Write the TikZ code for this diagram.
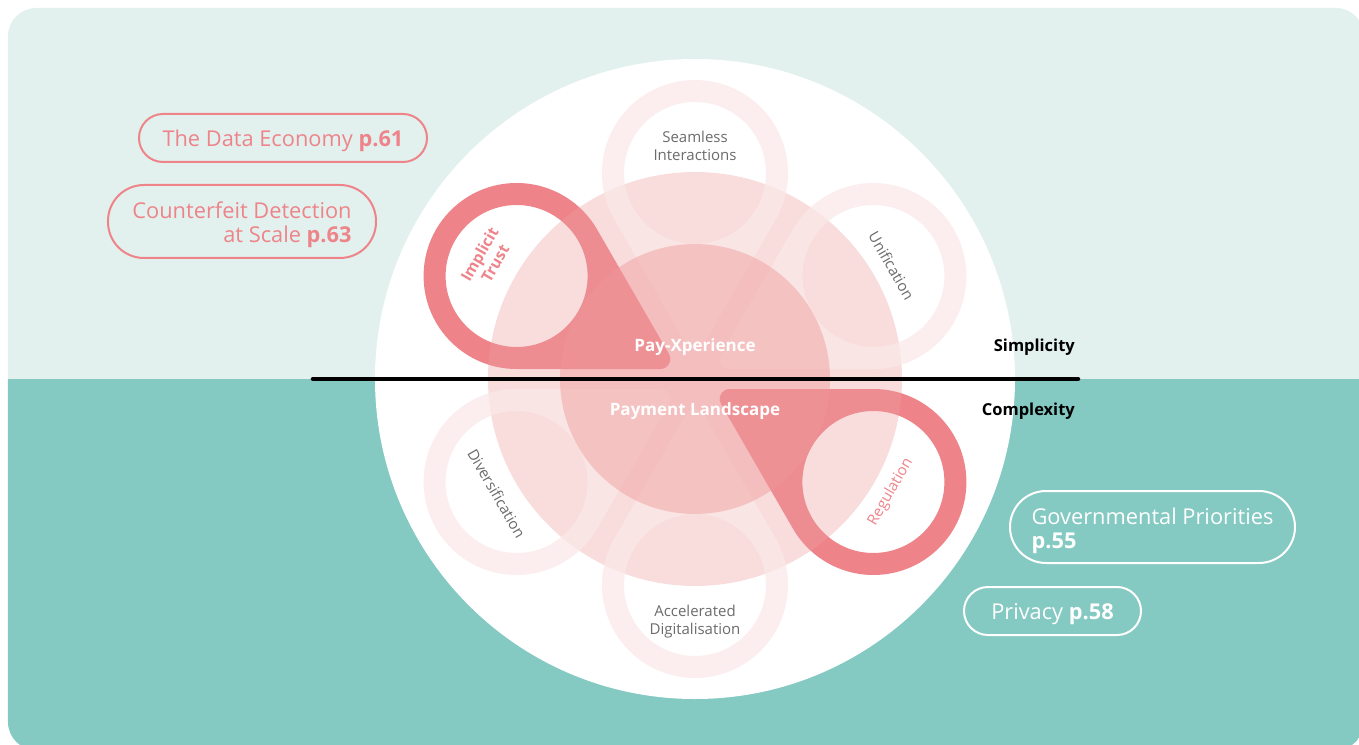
\documentclass[tikz,border=0pt]{standalone}
\usepackage{fontspec}
\setmainfont{Open Sans}
\usetikzlibrary{calc}

\definecolor{topbg}{HTML}{E2F1EE}
\definecolor{botbg}{HTML}{84C9C2}
\definecolor{pinred}{HTML}{EE848A}
\definecolor{ringpink}{RGB}{238,158,160}
\definecolor{corepink}{RGB}{240,152,153}
\definecolor{petalwash}{RGB}{251,233,233}
\definecolor{labelgray}{HTML}{6C6C6C}

% Teardrop petal pointing inwards along angle #1: outer ring of radius 93
% around a centre 206 from the middle, rounded tip, and a hole of radius 71.
\newcommand\petalpath[1]{%
  ($({#1}:206)+({#1+120}:93)$) arc[start angle={#1+120}, end angle={#1-120}, radius=93]
  -- ($({#1}:40)+({#1-120}:10)$) arc[start angle={#1-120}, end angle={#1-240}, radius=10]
  -- cycle ({#1}:206) circle[radius=71]}

\begin{document}
\begin{tikzpicture}[x=1pt,y=1pt,
  pill/.style={draw, line width=2pt, inner sep=0pt},
  pilllow/.style={pill, minimum height=48pt, rounded corners=24pt},
  pillhigh/.style={pill, minimum height=72pt, rounded corners=36pt},
  pilltext/.style={inner sep=0pt, yshift=-3pt, font=\fontsize{21.8}{24}\selectfont},
  petallabel/.style={font=\fontsize{15}{18}\selectfont, text=labelgray, align=center, inner sep=0pt},
  corelabel/.style={font=\bfseries\fontsize{17}{20}\selectfont, text=white, inner sep=0pt, yshift=-2pt},
  sidelabel/.style={font=\bfseries\fontsize{16.5}{20}\selectfont, text=black, inner sep=0pt, anchor=east, yshift=-2pt},
  strongpetal/.style={fill=pinred, even odd rule},
  faintpetal/.style={fill=petalwash, fill opacity=0.74, even odd rule}]

\useasboundingbox (-695,379) rectangle (664,-365);

% background card: light upper half, teal lower half
\begin{scope}
  \clip[rounded corners=28pt] (-687,371) rectangle (669,-371);
  \fill[topbg] (-700,0) rectangle (700,400);
  \fill[botbg] (-700,0) rectangle (700,-400);
\end{scope}

% white disc
\fill[white] (0,0) circle[radius=320];

% highlighted petals
\fill[strongpetal] \petalpath{150};
\fill[strongpetal] \petalpath{-30};

% pink middle ring and the faint petals
\fill[ringpink, fill opacity=0.35] (0,0) circle[radius=207];
\foreach \a in {90,30,-90,210} {
  \fill[faintpetal] \petalpath{\a};
}

% core disc
\fill[corepink, fill opacity=0.45] (0,0) circle[radius=135];

% divider between the two halves
\coordinate (axisL) at (-382,0);
\coordinate (axisR) at (383,0);
\draw[line width=4.5pt, line cap=round] (axisL) -- (axisR);

% core and side labels
\node[corelabel] (payx) at (0,34) {Pay-Xperience};
\node[corelabel] (payland) at (0,-30) {Payment Landscape};
\node[sidelabel] (simple) at (380,34) {Simplicity};
\node[sidelabel] (complex) at (380,-30) {Complexity};

% petal labels
\node[petallabel] (seamless) at (90:233) {Seamless\\Interactions};
\node[petallabel, rotate=-60] (unif) at (30:227) {Unification};
\node[petallabel, text=pinred, font=\fontsize{15.5}{18}\selectfont\bfseries, rotate=60] (trust) at (150:240) {Implicit\\Trust};
\node[petallabel, text=pinred, rotate=60] (regul) at (-30:226) {Regulation};
\node[petallabel, rotate=-60] (divers) at (210:229) {Diversification};
\node[petallabel] (accel) at (-90:243) {Accelerated\\Digitalisation};

% page references: outline pills with their texts
\node[pilllow, draw=pinred, minimum width=288pt] (dataecoPill) at (-412,241) {};
\node[pilltext, text=pinred] (dataeco) at (dataecoPill.center) {The Data Economy \textbf{p.61}};

\node[pillhigh, draw=pinred, minimum width=268pt, minimum height=73pt] (counterfeitPill) at (-453,157.5) {};
\node[pilltext, text=pinred, align=right] (counterfeit) at (counterfeitPill.center)
  {Counterfeit Detection\\at Scale \textbf{p.63}};

\node[pillhigh, draw=white, minimum width=285pt] (governPill) at (457.5,-148) {};
\node[pilltext, text=white, align=left, yshift=-1pt] (govern) at (governPill.center)
  {Governmental Priorities\\\textbf{p.55}};

\node[pilllow, draw=white, minimum width=177pt] (privacyPill) at (357.5,-232) {};
\node[pilltext, text=white] (privacy) at (privacyPill.center) {Privacy \textbf{p.58}};

\end{tikzpicture}
\end{document}
